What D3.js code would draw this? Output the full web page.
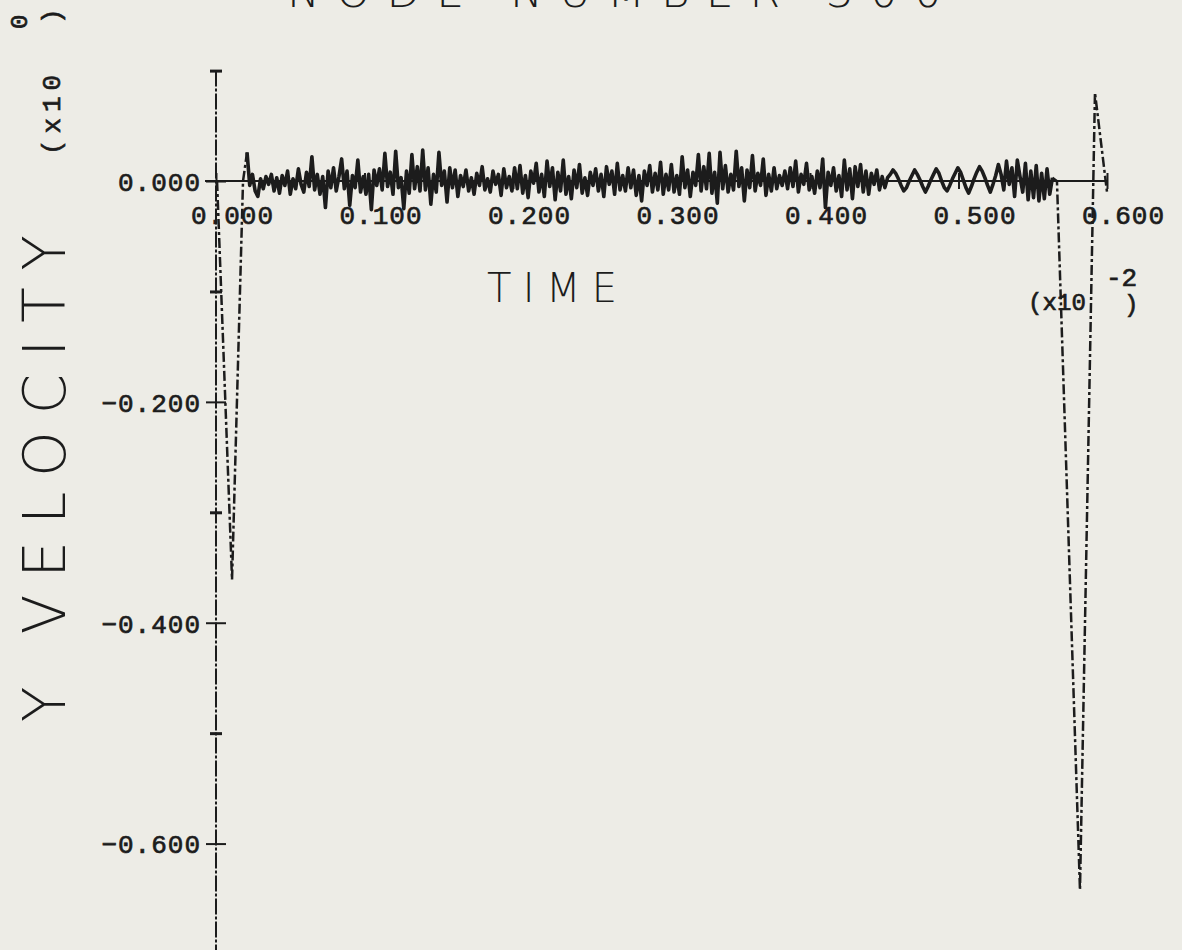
<!DOCTYPE html>
<html>
<head>
<meta charset="utf-8">
<script src="https://cdnjs.cloudflare.com/ajax/libs/d3/7.8.5/d3.min.js"></script>
<style>
  body { margin: 0; background: #edece6; }
  svg { display: block; }
</style>
</head>
<body>
<svg width="1182" height="950"></svg>
<script>
// ---- data ----
const titleText = "NODE NUMBER 300";
const xLabel = "TIME";
const yLabel = "Y VELOCITY";

const timeTicks = [0, 0.1, 0.2, 0.3, 0.4, 0.5, 0.6];
const velMajorTicks = [0, -0.2, -0.4, -0.6];
const velMinorTicks = [0.1, -0.1, -0.3, -0.5];

// first impact (time, velocity)
const startTimes = [0.0007, 0.0108, 0.0182];
const startVel = [0, -0.361, 0];

// ringing between the impacts, sampled every noiseStep, in units of 1e-3
const noiseStart = 0.0209;
const noiseStep = 0.00182;
const noiseVel = [
  26, -4, 6, -9, -14, 2, -7, 4, -3, 6, -9, 3, -11, 5, -4, 9, -12, 2, -7, 11,
  -3, -10, 8, -5, 22, -8, 6, -12, 4, -24, 9, -6, 12, -9, 4, 20, -7, 9, -22, 5,
  -6, 19, -10, 4, -12, 6, -26, 10, -4, 11, -8, 25, -5, 8, -12, 27, -6, 3, -25, 9,
  -11, 24, -7, 13, -9, 28, -8, 12, -21, 6, -10, 26, -4, 9, -19, 12, -6, 10, -14, 5,
  -5, 10, -9, 3, -12, 7, -4, 13, -8, 2, -10, 9, -3, 6, -13, 11, -6, 4, -9, 12,
  -7, 14, -11, 5, -15, 9, -2, 16, -10, 6, -14, 18, -5, 12, -17, 8, -9, 19, -12, 4,
  -16, 10, -6, 15, -11, 3, -13, 8, -4, 11, -9, 6, -14, 13, -3, 9, -12, 16, -8, 5,
  -9, 12, -6, 10, -13, 5, -18, 9, -4, 14, -10, 7, -8, 17, -12, 6, -8, 15, -10, 5,
  -12, 22, -6, 10, -14, 8, -4, 24, -9, 13, -7, 25, -11, 8, -20, 26, -7, 14, -10, 6,
  -8, 27, -5, 12, -18, 10, -6, 23, -9, 7, -4, 20, -13, 6, -9, 12, -7, 5, -4, 9,
  -7, 12, -5, 18, -10, 6, -3, 16, -8, 4, -11, 9, -6, 20, -24, 8, -4, 12, -9, 5,
  -14, 19, -8, 11, -16, 13, -5, 15, -10, 9, -12, 7, -3, 10, -8, 4, -6, 3, 6, 10,
  7, 2, -4, -9, -6, 0, 5, 10, 6, 1, -5, -10, -5, 1, 6, 11, 7, 0, -6, -9,
  -4, 2, 7, 12, 8, 1, -6, -11, -5, 2, 8, 13, 9, 3, -4, -10, -3, 5, 15, 6,
  -8, 18, -3, 12, -14, 19, 4, -10, 16, -17, 9, -15, 14, -18, 7, -16, 11, -12, 3
];

// second impact (time, velocity)
const endTimes = [0.5663, 0.5818, 0.5919, 0.6];
const endVel = [0, -0.642, 0.080, -0.010];

// ---- layout ----
let svg = d3.select("svg");
let margin = { top: 70.6, right: 75, bottom: -4, left: 216 };
let width = 1182, height = 950;

let x = d3.scaleLinear()
  .domain([0, 0.6])
  .range([margin.left, width - margin.right]);

let y = d3.scaleLinear()
  .domain([0.1, -0.7])
  .range([margin.top, height - margin.bottom]);

let ink = "#1c1c1c";

// build the point lists
let startPts = startTimes.map((t, i) => [t, startVel[i]]);
let noisePts = noiseVel.map((v, i) => [noiseStart + i * noiseStep, v / 1000]);
let endPts = endTimes.map((t, i) => [t, endVel[i]]);

// ---- axes ----
// x axis line runs a little left of the y axis, like the plotter did
svg.append("line")
  .attr("x1", x(0) - 11).attr("x2", x(0.6))
  .attr("y1", y(0)).attr("y2", y(0))
  .attr("stroke", ink).attr("stroke-width", 2);

let tickFont = "'Liberation Mono', monospace";

// plotter lettering: regular glyphs with a thin outline to thicken the pen
let penText = function(sel, size) {
  sel.attr("fill", ink)
    .attr("stroke", ink)
    .attr("stroke-width", 0.7)
    .style("font-family", tickFont)
    .style("font-size", size + "px");
};

let xAxis = d3.axisBottom(x)
  .tickValues(timeTicks)
  .tickSize(8)
  .tickSizeOuter(0)
  .tickFormat(d3.format(".3f"));

let xGroup = svg.append("g")
  .attr("transform", "translate(0," + y(0) + ")")
  .call(xAxis);
xGroup.select(".domain").remove();
xGroup.selectAll(".tick line")
  .attr("y1", -8).attr("y2", 8)
  .attr("stroke", ink).attr("stroke-width", 2);
xGroup.selectAll(".tick text")
  .attr("y", 0).attr("dy", 0)
  .attr("transform", "translate(16,43)")
  .style("letter-spacing", "1px")
  .call(penText, 26);

let yAxis = d3.axisLeft(y)
  .tickValues(velMajorTicks)
  .tickSize(10)
  .tickSizeOuter(0)
  .tickFormat(d3.format(".3f"));

let yGroup = svg.append("g")
  .attr("transform", "translate(" + x(0) + ",0)")
  .call(yAxis);
yGroup.select(".domain").remove();
yGroup.selectAll(".tick line")
  .attr("x1", -10).attr("x2", 10)
  .attr("stroke", ink).attr("stroke-width", 2);
yGroup.selectAll(".tick text")
  .attr("x", -15).attr("dy", "0.36em")
  .style("letter-spacing", "1px")
  .call(penText, 26);

let yMinor = d3.axisLeft(y)
  .tickValues(velMinorTicks)
  .tickSize(6)
  .tickFormat("");
let yMinorGroup = svg.append("g")
  .attr("transform", "translate(" + x(0) + ",0)")
  .call(yMinor);
yMinorGroup.select(".domain").remove();
yMinorGroup.selectAll(".tick line")
  .attr("x1", -6).attr("x2", 6)
  .attr("stroke", ink).attr("stroke-width", 3);

svg.append("line")
  .attr("x1", x(0)).attr("x2", x(0))
  .attr("y1", y(0.1)).attr("y2", height)
  .attr("stroke", ink).attr("stroke-width", 2)
  .attr("stroke-dasharray", "16 2 3 2");

// ---- the trace ----
let line = d3.line()
  .x(d => x(d[0]))
  .y(d => y(d[1]));

// impacts are drawn broken, the way the plotter pen skipped on fast moves
svg.append("path")
  .datum(startPts.concat([noisePts[0]]))
  .attr("d", line)
  .attr("fill", "none")
  .attr("stroke", ink)
  .attr("stroke-width", 2.5)
  .attr("stroke-dasharray", "10 3 3 3");

svg.append("path")
  .datum(noisePts)
  .attr("d", line)
  .attr("fill", "none")
  .attr("stroke", ink)
  .attr("stroke-width", 3.6)
  .attr("stroke-linejoin", "round");

svg.append("path")
  .datum([noisePts[noisePts.length - 1]].concat(endPts))
  .attr("d", line)
  .attr("fill", "none")
  .attr("stroke", ink)
  .attr("stroke-width", 2.5)
  .attr("stroke-dasharray", "10 3 3 3");

// ---- titles ----
let labelFont = "'DejaVu Sans', sans-serif";

svg.append("text")
  .attr("x", 287).attr("y", 7)
  .attr("textLength", 655)
  .attr("lengthAdjust", "spacing")
  .attr("fill", ink)
  .style("font-family", labelFont)
  .style("font-weight", 300)
  .style("font-size", "44px")
  .text(titleText);

svg.append("text")
  .attr("x", 487).attr("y", 302)
  .attr("textLength", 130)
  .attr("lengthAdjust", "spacing")
  .attr("fill", ink)
  .style("font-family", labelFont)
  .style("font-weight", 200)
  .style("font-size", "40px")
  .text(xLabel);

svg.append("text")
  .attr("transform", "translate(65,722) rotate(-90)")
  .attr("textLength", 487)
  .attr("lengthAdjust", "spacing")
  .attr("fill", ink)
  .style("font-family", labelFont)
  .style("font-weight", 200)
  .style("font-size", "58px")
  .text(yLabel);

// scale multipliers
svg.append("text")
  .attr("transform", "translate(60,155) rotate(-90)")
  .attr("textLength", 80)
  .call(penText, 26)
  .text("(x10");
svg.append("text")
  .attr("transform", "translate(27,29) rotate(-90)")
  .call(penText, 24)
  .text("0");
svg.append("text")
  .attr("transform", "translate(60,24) rotate(-90)")
  .call(penText, 26)
  .text(")");

svg.append("text")
  .attr("x", 1028).attr("y", 310)
  .attr("textLength", 58)
  .call(penText, 24)
  .text("(x10");
svg.append("text")
  .attr("x", 1106).attr("y", 286)
  .call(penText, 26)
  .text("-2");
svg.append("text")
  .attr("x", 1124).attr("y", 312)
  .call(penText, 24)
  .text(")");
</script>
</body>
</html>
